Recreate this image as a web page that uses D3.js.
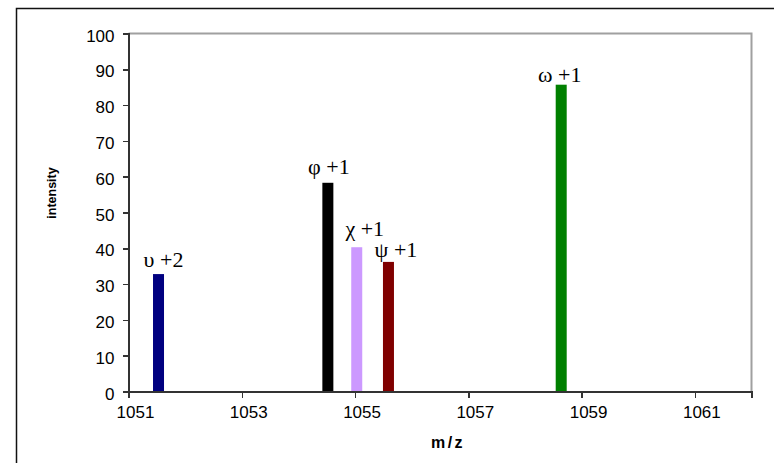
<!DOCTYPE html>
<meta charset="utf-8">
<style>
 body { margin: 0; background: #fff; }
 svg { background: #fff; }
 .axis text { font: 17px "Liberation Sans", Arial, sans-serif; fill: #000; }
 .axis path, .axis line { stroke: #333; stroke-width: 1.5px; shape-rendering: crispEdges; }
 .peak-label { font: 22px "Liberation Serif", "Times New Roman", serif; fill: #000; }
 .title { font-family: "Liberation Sans", Arial, sans-serif; font-weight: bold; fill: #000; }
</style>
<body>
<svg width="774" height="463"></svg>
<script src="https://cdn.jsdelivr.net/npm/d3@7/dist/d3.min.js"></script>
<script>

 // peaks
 var labels = ["υ +2", "φ +1", "χ +1", "ψ +1", "ω +1"];
 var mz = [1051.53, 1054.52, 1055.03, 1055.59, 1058.64];
 var intensity = [32.8, 58.3, 40.3, 36.2, 85.7];
 var colors = ["#000080", "#000000", "#cc99ff", "#800000", "#008000"];

 var xTicks = [1051, 1053, 1055, 1057, 1059, 1061];
 var yTicks = [0, 10, 20, 30, 40, 50, 60, 70, 80, 90, 100];

 // label nudges (px), so the text sits like in the original
 var labelDx = [5, 1, 8, 7.5, -1.5];
 var labelDy = [-7, -8.5, -11, -5, -3];

 var peaks = labels.map(function(l, i) {
     return {label: l, mz: mz[i], value: intensity[i], color: colors[i], dx: labelDx[i], dy: labelDy[i]};
 });

 var svg = d3.select("svg"),
     plot = {left: 128.5, right: 751.5, top: 33.5, bottom: 391.5};

 // outer chart border (right/bottom edges fall outside the picture)
 svg.append("rect")
    .attr("x", 16.5).attr("y", 8.5)
    .attr("width", 800).attr("height", 500)
    .attr("fill", "none").attr("stroke", "#111").attr("stroke-width", 1.5);

 var x = d3.scaleLinear().domain([1051, 1062]).range([plot.left, plot.right]);
 var y = d3.scaleLinear().domain([0, 100]).range([plot.bottom, plot.top]);

 // plot area frame: top and right in grey
 svg.append("path")
    .attr("d", "M" + plot.left + "," + plot.top + "H" + plot.right + "V" + plot.bottom)
    .attr("fill", "none").attr("stroke", "#a0a0a0").attr("stroke-width", 2);

 svg.selectAll("rect.peak")
    .data(peaks)
    .enter().append("rect")
    .attr("class", "peak")
    .attr("x", function(d) { return x(d.mz) - 5.5; })
    .attr("width", 11)
    .attr("y", function(d) { return y(d.value); })
    .attr("height", function(d) { return y(0) - y(d.value); })
    .attr("fill", function(d) { return d.color; });

 var xAxis = svg.append("g")
    .attr("class", "axis")
    .attr("transform", "translate(0," + plot.bottom + ")")
    .call(d3.axisBottom(x).tickValues(xTicks).tickFormat(d3.format("d")).tickSizeOuter(0).tickSize(6).tickPadding(8));
 xAxis.selectAll("text").attr("dx", 6.5);

 var yAxis = svg.append("g")
    .attr("class", "axis")
    .attr("transform", "translate(" + plot.left + ",0)")
    .call(d3.axisLeft(y).tickValues(yTicks).tickSizeOuter(0).tickSize(6).tickPadding(8));
 yAxis.selectAll("text").attr("dy", "0.45em");

 svg.selectAll("text.peak-label")
    .data(peaks)
    .enter().append("text")
    .attr("class", "peak-label")
    .attr("text-anchor", "middle")
    .attr("x", function(d) { return x(d.mz) + d.dx; })
    .attr("y", function(d) { return y(d.value) + d.dy; })
    .text(function(d) { return d.label; });

 svg.append("text")
    .attr("class", "title")
    .attr("transform", "translate(56,193) rotate(-90)")
    .attr("text-anchor", "middle")
    .style("font-size", "12.5px")
    .text("intensity");

 svg.append("text")
    .attr("class", "title")
    .attr("x", 448).attr("y", 448)
    .attr("text-anchor", "middle")
    .style("font-size", "16px")
    .style("letter-spacing", "2.5px")
    .text("m/z");

</script>
</body>
